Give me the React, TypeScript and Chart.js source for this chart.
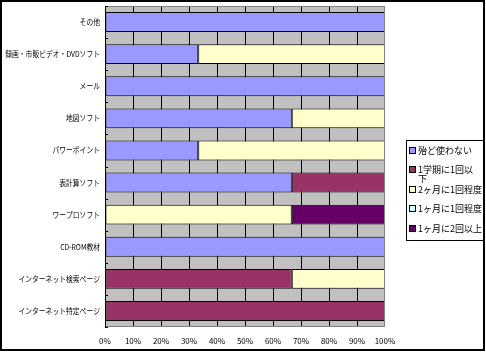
import React, { useEffect, useRef } from "react";
import { Chart, registerables } from "chart.js";

Chart.register(...registerables);

const categories = [
  "その他",
  "録画・市販ビデオ・DVDソフト",
  "メール",
  "地図ソフト",
  "パワーポイント",
  "表計算ソフト",
  "ワープロソフト",
  "CD-ROM教材",
  "インターネット検索ページ",
  "インターネット特定ページ",
];

const seriesLabels = [
  "殆ど使わない",
  "1学期に1回以下",
  "2ヶ月に1回程度",
  "1ヶ月に1回程度",
  "1ヶ月に2回以上",
];

const legendLines = [
  ["殆ど使わない"],
  ["1学期に1回以", "下"],
  ["2ヶ月に1回程度"],
  ["1ヶ月に1回程度"],
  ["1ヶ月に2回以上"],
];

const rarely = [100, 33.3, 100, 66.7, 33.3, 66.7, 0, 100, 0, 0];
const perTerm = [0, 0, 0, 0, 0, 33.3, 0, 0, 66.7, 100];
const bimonthly = [0, 66.7, 0, 33.3, 66.7, 0, 66.7, 0, 33.3, 0];
const monthly = [0, 0, 0, 0, 0, 0, 0, 0, 0, 0];
const twiceMonthly = [0, 0, 0, 0, 0, 0, 33.3, 0, 0, 0];

const colors = ["#9999FF", "#993366", "#FFFFCC", "#CCFFFF", "#660066"];
const xTicks = [0, 10, 20, 30, 40, 50, 60, 70, 80, 90, 100];

const FONT = "'Noto Sans CJK JP', sans-serif";

export default function App() {
  const ref = useRef<HTMLCanvasElement | null>(null);

  useEffect(() => {
    const canvas = ref.current;
    if (!canvas) return;
    const series = [rarely, perTerm, bimonthly, monthly, twiceMonthly];

    const framePlugin = {
      id: "excelFrame",
      beforeDraw(chart: any) {
        const { ctx, chartArea } = chart;
        ctx.save();
        ctx.fillStyle = "#ffffff";
        ctx.fillRect(0, 0, chart.width, chart.height);
        ctx.fillStyle = "#C0C0C0";
        ctx.fillRect(
          chartArea.left,
          chartArea.top,
          chartArea.right - chartArea.left,
          chartArea.bottom - chartArea.top
        );
        ctx.restore();
      },
      afterDraw(chart: any) {
        const { ctx, chartArea } = chart;
        const { left, right, top, bottom } = chartArea;
        ctx.save();
        // plot border
        ctx.strokeStyle = "#808080";
        ctx.lineWidth = 1;
        ctx.strokeRect(left + 0.5, top + 0.5, right - left - 1, bottom - top - 1);
        // left axis
        ctx.strokeStyle = "#000000";
        ctx.beginPath();
        ctx.moveTo(left + 0.5, top);
        ctx.lineTo(left + 0.5, bottom);
        ctx.stroke();
        // category tick marks (inside)
        const n = categories.length;
        for (let i = 0; i <= n; i++) {
          const y = Math.round(top + ((bottom - top) * i) / n) + 0.5;
          ctx.beginPath();
          ctx.moveTo(left, y);
          ctx.lineTo(left + 3, y);
          ctx.stroke();
        }
        // category labels (condensed like the bitmap font)
        const yScale = chart.scales.y;
        ctx.font = `8px ${FONT}`;
        ctx.fillStyle = "#000";
        ctx.textBaseline = "middle";
        ctx.textAlign = "right";
        const sx = 0.85;
        (chart.data.labels as string[]).forEach((lab, i) => {
          const y = yScale.getPixelForValue(i);
          ctx.save();
          ctx.translate(left - 5, y);
          ctx.scale(sx, 1);
          ctx.fillText(lab, 0, 0);
          ctx.restore();
        });
        // legend
        const lx = 406, ly = 140, lw = 77, lh = 100;
        ctx.strokeStyle = "#000000";
        ctx.strokeRect(lx + 0.5, ly + 0.5, lw, lh);
        ctx.font = `9px ${FONT}`;
        ctx.textBaseline = "middle";
        ctx.textAlign = "left";
        const itemY = [151, 170, 190, 209, 229];
        chart.data.datasets.forEach((ds: any, i: number) => {
          const y = itemY[i];
          ctx.fillStyle = ds.backgroundColor;
          ctx.fillRect(409.5, y - 3.5, 6, 6);
          ctx.strokeStyle = "#000";
          ctx.strokeRect(409.5, y - 3.5, 6, 6);
          ctx.fillStyle = "#000";
          legendLines[i].forEach((line, j) => {
            ctx.fillText(line, 418, y + j * 9);
          });
        });
        // outer frame
        ctx.strokeStyle = "#000000";
        ctx.lineWidth = 2;
        ctx.strokeRect(1, 1, 483, 349);
        ctx.restore();
      },
    };

    const chart = new Chart(canvas, {
      type: "bar",
      data: {
        labels: categories,
        datasets: series.map((data, i) => ({
          label: seriesLabels[i],
          data,
          backgroundColor: colors[i],
          borderColor: "#000000",
          borderWidth: (c: any) => (c.raw ? 1 : 0),
          borderSkipped: false,
          categoryPercentage: 0.62,
          barPercentage: 1,
        })),
      },
      options: {
        indexAxis: "y",
        animation: false,
        responsive: true,
        maintainAspectRatio: false,
        layout: { padding: { left: 0, top: 6, right: 101, bottom: 0 } },
        plugins: {
          legend: { display: false },
          tooltip: { enabled: false },
        },
        scales: {
          x: {
            stacked: true,
            min: 0,
            max: 100,
            afterBuildTicks: (s: any) => {
              s.ticks = xTicks.map((v) => ({ value: v }));
            },
            afterFit: (s: any) => {
              s.height = 26;
            },
            grid: {
              color: (c: any) =>
                c.tick && (c.tick.value === 0 || c.tick.value === 100)
                  ? "rgba(0,0,0,0)"
                  : "#000000",
              lineWidth: 1,
              drawTicks: false,
            },
            border: { display: false },
            ticks: {
              color: "#000",
              font: { family: FONT, size: 8 },
              padding: 9,
              maxRotation: 0,
              autoSkip: false,
              callback: (v: any) => `${v}%`,
            },
          },
          y: {
            stacked: true,
            afterFit: (s: any) => {
              s.width = 105;
            },
            grid: { display: false },
            border: { display: false },
            ticks: { display: false },
          },
        },
      },
      plugins: [framePlugin],
    } as any);

    return () => chart.destroy();
  }, []);

  return (
    <div style={{ position: "absolute", left: 0, top: 0, width: 486, height: 353 }}>
      <canvas ref={ref} />
    </div>
  );
}
